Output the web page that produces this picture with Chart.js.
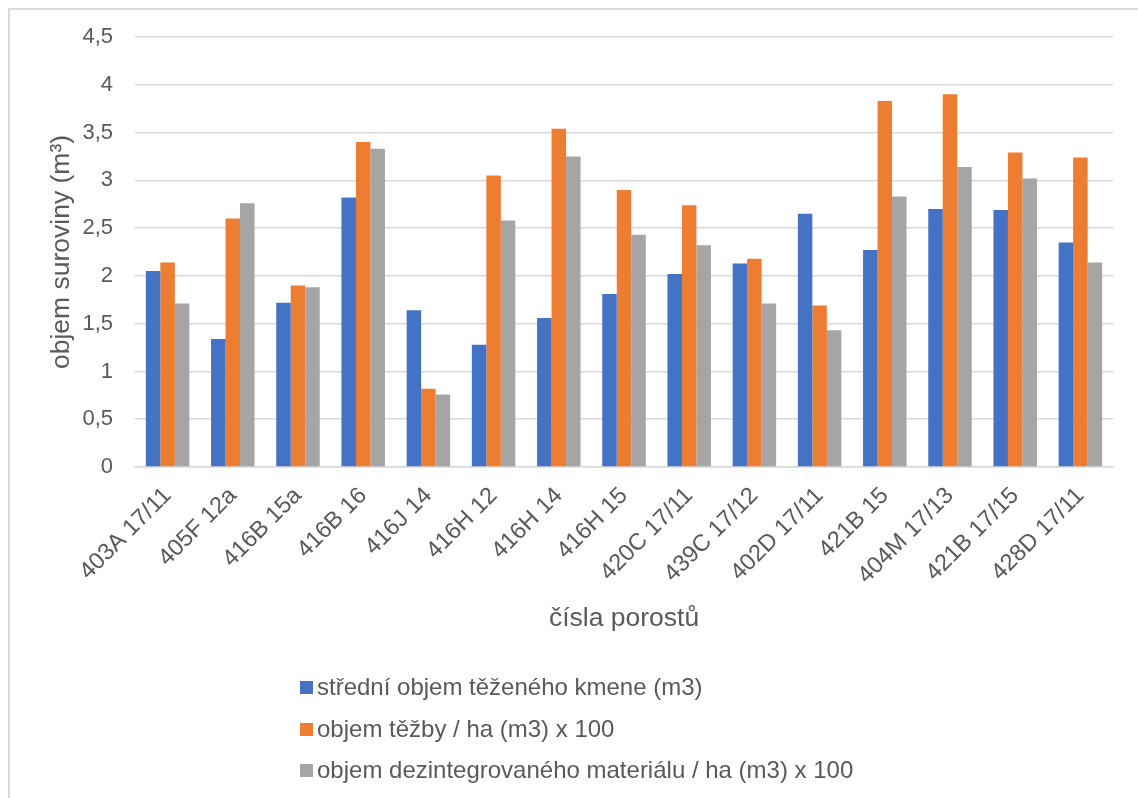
<!DOCTYPE html>
<html>
<head>
<meta charset="utf-8">
<script src="https://cdn.jsdelivr.net/npm/chart.js@4/dist/chart.umd.min.js"></script>
<style>
  html, body { margin: 0; padding: 0; background: #fff; }
  body { width: 1138px; height: 798px; position: relative; overflow: hidden;
         font-family: "Liberation Sans", Arial, sans-serif; }
  #frame { position: absolute; left: 8px; top: 8px; width: 1160px; height: 820px;
           border: 2px solid #d9d9d9; box-sizing: border-box; }
  #wrap { position: absolute; left: 0; top: 0; width: 1138px; height: 798px; }
  #legend { position: absolute; left: 300px; top: 673px; margin: 0; padding: 0; list-style: none; }
  #legend li { height: 41.5px; display: flex; align-items: flex-start; color: #595959;
               font-size: 24px; line-height: 28px; }
  #legend span.box { display: inline-block; width: 13px; height: 13px; margin: 8px 4px 0 0; }
</style>
</head>
<body>
<div id="frame"></div>
<div id="wrap"><canvas id="c" width="1138" height="798"></canvas></div>
<ul id="legend"></ul>
<script>
// stand numbers (categories on the x axis)
const categories = ['403A 17/11', '405F 12a', '416B 15a', '416B 16', '416J 14', '416H 12', '416H 14',
  '416H 15', '420C 17/11', '439C 17/12', '402D 17/11', '421B 15', '404M 17/13', '421B 17/15', '428D 17/11'];

const seriesNames = ['střední objem těženého kmene (m3)', 'objem těžby / ha (m3) x 100',
  'objem dezintegrovaného materiálu / ha (m3) x 100'];

const meanStemVolume = [2.05, 1.34, 1.72, 2.82, 1.64, 1.28, 1.56, 1.81, 2.02, 2.13, 2.65, 2.27, 2.70, 2.69, 2.35];
const harvestPerHa   = [2.14, 2.60, 1.90, 3.40, 0.82, 3.05, 3.54, 2.90, 2.74, 2.18, 1.69, 3.83, 3.90, 3.29, 3.24];
const disintegrated  = [1.71, 2.76, 1.88, 3.33, 0.76, 2.58, 3.25, 2.43, 2.32, 1.71, 1.43, 2.83, 3.14, 3.02, 2.14];

const yTicks = [0, 0.5, 1, 1.5, 2, 2.5, 3, 3.5, 4, 4.5];

const colors = ['#4472C4', '#ED7D31', '#A5A5A5'];
const textColor = '#595959';
const gridColor = '#d9d9d9';
const fontFamily = '"Liberation Sans", Arial, sans-serif';

const values = [meanStemVolume, harvestPerHa, disintegrated];

const chart = new Chart(document.getElementById('c'), {
  type: 'bar',
  data: {
    labels: categories,
    datasets: seriesNames.map((name, i) => ({
      label: name,
      data: values[i],
      backgroundColor: colors[i],
      borderWidth: 0,
      categoryPercentage: 0.667,
      barPercentage: 1.0
    }))
  },
  options: {
    responsive: false,
    animation: false,
    devicePixelRatio: 1,
    layout: { padding: { left: 46, top: 37, right: 25, bottom: 163 } },
    plugins: { legend: { display: false }, tooltip: { enabled: false } },
    scales: {
      x: {
        grid: { display: false, drawTicks: false },
        border: { display: true, color: gridColor, width: 1.5 },
        ticks: {
          color: textColor, font: { family: fontFamily, size: 23.5 },
          minRotation: 45, maxRotation: 45, autoSkip: false, padding: 15
        },
        title: {
          display: true, text: 'čísla porostů', color: textColor,
          font: { family: fontFamily, size: 26.5 }, padding: { top: 0, bottom: 0 }
        },
        afterFit: s => { s.height = 168; }
      },
      y: {
        min: 0, max: 4.5,
        afterBuildTicks: s => { s.ticks = yTicks.map(v => ({ value: v })); },
        grid: { color: gridColor, lineWidth: 1.5, drawTicks: false },
        border: { display: false },
        ticks: {
          color: textColor, font: { family: fontFamily, size: 22 }, padding: 22,
          callback: v => String(v).replace('.', ',')
        },
        title: {
          display: true, text: 'objem suroviny (m³)', color: textColor,
          font: { family: fontFamily, size: 26.5 }, padding: { top: 0, bottom: 0 }
        },
        afterFit: s => { s.width = 89; }
      }
    }
  }
});

// legend, one series per row
const legend = document.getElementById('legend');
seriesNames.forEach((name, i) => {
  const li = document.createElement('li');
  const box = document.createElement('span');
  box.className = 'box';
  box.style.background = colors[i];
  li.appendChild(box);
  li.appendChild(document.createTextNode(name));
  legend.appendChild(li);
});
</script>
</body>
</html>
